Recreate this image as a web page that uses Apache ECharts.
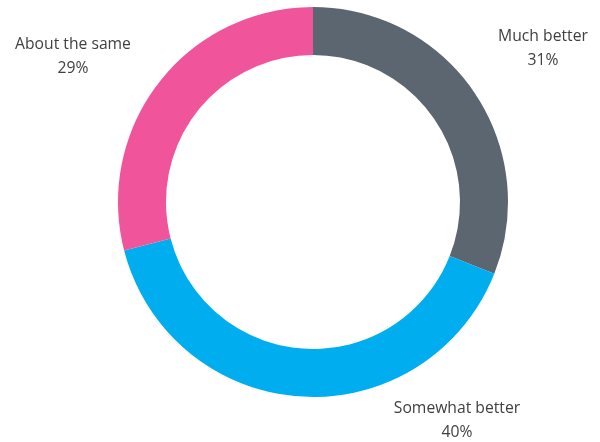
<!DOCTYPE html>
<html>
<head>
<meta charset="utf-8">
<script src="https://cdn.jsdelivr.net/npm/echarts@6/dist/echarts.min.js"></script>
<style>
  html, body { margin: 0; padding: 0; background: #fff; }
  #chart { width: 600px; height: 442px; }
</style>
</head>
<body>
<div id="chart"></div>
<script>
// Survey answers, shares in percent
const categories = ['Much better', 'Somewhat better', 'About the same'];
const shares = [31, 40, 29];
const colors = ['#5b6670', '#00aeef', '#f0559b'];

// Where each two-line label sits (centre of the text block)
const labelAnchors = [[543, 49], [457, 421], [73, 57]];

const chart = echarts.init(document.getElementById('chart'), null, { renderer: 'canvas' });

chart.setOption({
  animation: false,
  series: [{
    type: 'pie',
    center: [313, 202],
    radius: [147, 195],
    startAngle: 90,
    clockwise: true,
    avoidLabelOverlap: false,
    data: categories.map((name, i) => ({
      name,
      value: shares[i],
      itemStyle: { color: colors[i] }
    })),
    itemStyle: { borderWidth: 0 },
    label: {
      show: true,
      position: 'outside',
      formatter: p => p.name + '\n' + p.value + '%',
      fontFamily: 'Open Sans',
      fontSize: 15.7,
      lineHeight: 24,
      color: '#404040',
      align: 'center'
    },
    labelLine: { show: false },
    labelLayout: p => ({
      x: labelAnchors[p.dataIndex][0],
      y: labelAnchors[p.dataIndex][1],
      align: 'center',
      verticalAlign: 'middle'
    }),
    emphasis: { disabled: true }
  }]
});
</script>
</body>
</html>
